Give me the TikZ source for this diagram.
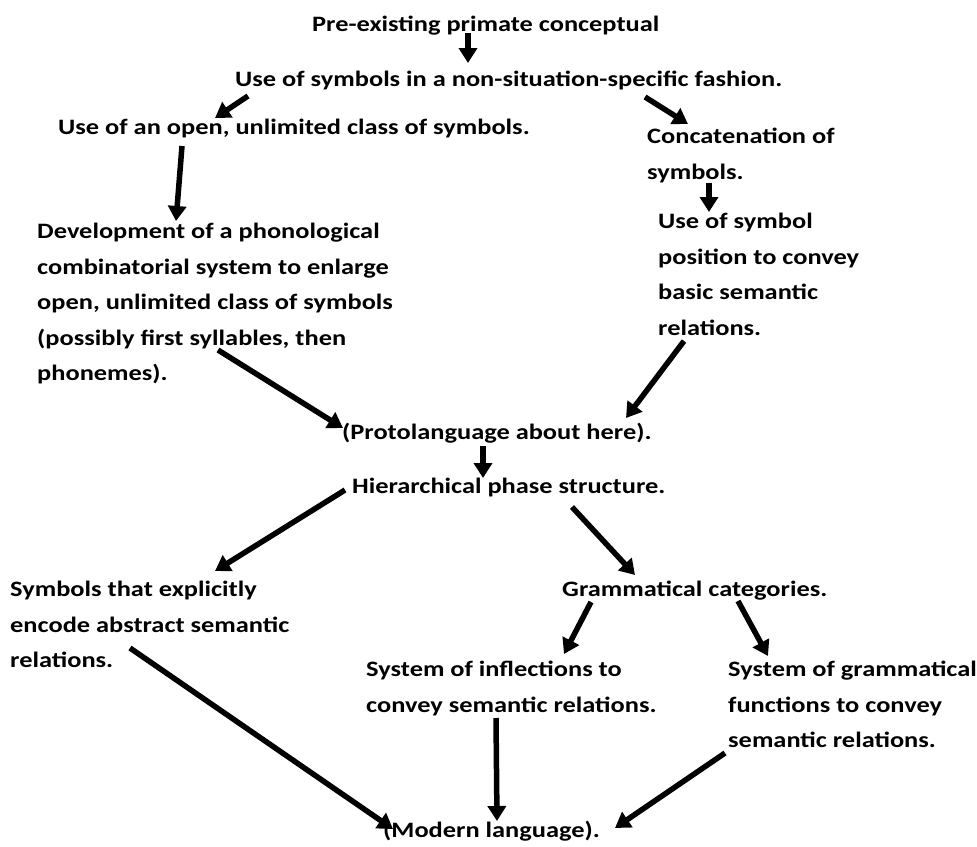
\documentclass[tikz,border=0pt]{standalone}
\usepackage{fontspec}
\setmainfont{Carlito}[FakeStretch=1.2]
\usetikzlibrary{arrows.meta}
\begin{document}
\begin{tikzpicture}[x=1pt,y=-1pt,
  txt/.style={anchor=north west,inner sep=0pt,align=left,
    font=\fontsize{22}{35.5}\selectfont\bfseries},
  arr/.style={line width=5.5pt,-{Triangle[length=15pt,width=18pt]}}]
\useasboundingbox (0,0) rectangle (977,846);
% statements of the sequence
\node[txt] (pre)   at (312,16)  {Pre-existing primate conceptual};
\node[txt] (use)   at (235,71)  {Use of symbols in a non-situation-specific fashion.};
\node[txt] (open)  at (58,119)  {Use of an open, unlimited class of symbols.};
\node[txt] (conc)  at (647,128) {Concatenation of\\symbols.};
\node[txt] (pos)   at (658,213) {Use of symbol\\position to convey\\basic semantic\\relations.};
\node[txt] (phon)  at (37,223)  {Development of a phonological\\combinatorial system to enlarge\\open, unlimited class of symbols\\(possibly first syllables, then\\phonemes).};
\node[txt] (proto) at (342,423) {(Protolanguage about here).};
\node[txt] (hier)  at (352,478) {Hierarchical phase structure.};
\node[txt] (abst)  at (10,581)  {Symbols that explicitly\\encode abstract semantic\\relations.};
\node[txt] (gram)  at (562,581) {Grammatical categories.};
\node[txt] (infl)  at (366,661) {System of inflections to\\convey semantic relations.};
\node[txt] (func)  at (728,661) {System of grammatical\\functions to convey\\semantic relations.};
\node[txt] (mod)   at (383,821) {(Modern language).};
% arrow ends
\coordinate (a1s) at (468,33);  \coordinate (a1e) at (468,63);
\coordinate (a2s) at (248,96);  \coordinate (a2e) at (215,118);
\coordinate (a3s) at (645,97);  \coordinate (a3e) at (688,124);
\coordinate (a4s) at (182,146); \coordinate (a4e) at (176,221);
\coordinate (a5s) at (709,183); \coordinate (a5e) at (709,212);
\coordinate (a6s) at (218,350); \coordinate (a6e) at (343,428);
\coordinate (a7s) at (684,341); \coordinate (a7e) at (626,418);
\coordinate (a8s) at (483,446); \coordinate (a8e) at (483,478);
\coordinate (a9s) at (345,490); \coordinate (a9e) at (215,571);
\coordinate (a10s) at (572,507); \coordinate (a10e) at (635,575);
\coordinate (a11s) at (591,602); \coordinate (a11e) at (564,654);
\coordinate (a12s) at (738,601); \coordinate (a12e) at (768,656);
\coordinate (a13s) at (130,648); \coordinate (a13e) at (393,829);
\coordinate (a14s) at (496,718); \coordinate (a14e) at (497,821);
\coordinate (a15s) at (725,753); \coordinate (a15e) at (615,828);
% connectors
\draw[arr] (a1s) -- (a1e);
\draw[arr] (a2s) -- (a2e);
\draw[arr] (a3s) -- (a3e);
\draw[arr] (a4s) -- (a4e);
\draw[arr] (a5s) -- (a5e);
\draw[arr] (a6s) -- (a6e);
\draw[arr] (a7s) -- (a7e);
\draw[arr] (a8s) -- (a8e);
\draw[arr] (a9s) -- (a9e);
\draw[arr] (a10s) -- (a10e);
\draw[arr] (a11s) -- (a11e);
\draw[arr] (a12s) -- (a12e);
\draw[arr] (a13s) -- (a13e);
\draw[arr] (a14s) -- (a14e);
\draw[arr] (a15s) -- (a15e);
\end{tikzpicture}
\end{document}
